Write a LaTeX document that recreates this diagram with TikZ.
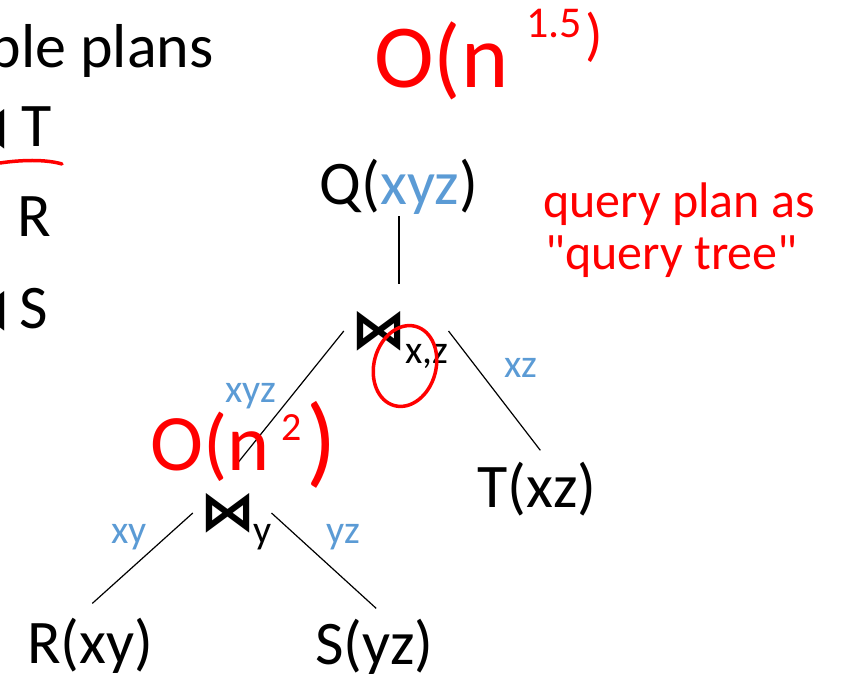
\documentclass[tikz,border=0pt]{standalone}
\usepackage{fontspec}
\setmainfont{Carlito}
\newfontfamily\joinfont{DejaVu Sans}
\usepackage{xcolor}
\usetikzlibrary{positioning}
\definecolor{attrblue}{HTML}{5B9BD5}
\definecolor{penred}{HTML}{FF0000}

\begin{document}
\begin{tikzpicture}[
        x=1pt, y=-1pt,
        every node/.style={inner sep=0pt},
        rel/.style={font=\fontsize{62}{72}\selectfont, anchor=base west},
        attr/.style={font=\fontsize{40}{48}\selectfont, text=attrblue, anchor=base west},
        sub/.style={font=\fontsize{40}{48}\selectfont, anchor=base west},
        joinop/.style={font=\joinfont\bfseries\fontsize{55}{55}\selectfont, inner xsep=7pt, inner ysep=10pt},
        edge/.style={line width=1.2pt},
        ink/.style={draw=penred, line width=3.5pt, line cap=round},
        note/.style={font=\fontsize{50}{56}\selectfont, text=penred, anchor=base west}
    ]
    \useasboundingbox (0,0) rectangle (846,676);
    \clip (0,0) rectangle (846,676);
    % left column, cut by the slide border
    \node[rel, anchor=base east] (plans) at (214,68) {ble plans};
    \node[joinop, inner sep=0pt, anchor=base] (cutT) at (-17,147) {⋈};
    \node[rel] (rowT) at (21,147) {T};
    \node[rel] (rowR) at (17,237) {R};
    \node[joinop, inner sep=0pt, anchor=base] (cutS) at (-17,328) {⋈};
    \node[rel] (rowS) at (19,328) {S};
    \draw[ink] (0,163) .. controls (20,160) and (45,159) .. (62,164);
    % query tree
    \node[rel, anchor=base] (q) at (399,205) {Q(\textcolor{attrblue}{xyz})};
    \node[joinop] (jxz) at (378.5,331) {⋈};
    \node[sub] (jxzsub) at (405,363) {x,z};
    \node[rel] (t) at (477,507) {T(xz)};
    \node[joinop] (jy) at (227.5,513) {⋈};
    \node[sub] (jysub) at (253,543) {y};
    \node[rel] (r) at (27,663) {R(xy)};
    \node[rel] (s) at (315,664) {S(yz)};
    \node[attr] (axyz) at (225,402) {xyz};
    \node[attr] (axz) at (504,377) {xz};
    \node[attr] (axy) at (111,543) {xy};
    \node[attr] (ayz) at (326,543) {yz};
    \draw[edge, shorten <=1pt, shorten >=17pt] (q.south) -- (q.south |- jxz.north);
    \draw[edge, shorten >=22pt] (jxz.west) -- (jy.101);
    \draw[edge, shorten >=14pt] (jxzsub.east |- jxz.east) -- (t.66);
    \draw[edge, shorten >=21pt] (jy.west) -- (r.116);
    \draw[edge, shorten >=15pt] (jysub.east |- jy.east) -- (s.65);
    % red pen notes
    \node[note] (note1) at (543,218) {query plan as};
    \node[note] (note2) at (545,270) {\textquotedbl query tree\textquotedbl};
    \node[note, font=\fontsize{90}{90}\selectfont] (costtop) at (374,88)
        {O(n\hspace{18pt}\raisebox{50pt}{\fontsize{44}{44}\selectfont 1.5}\hspace{3pt}\raisebox{33pt}{\fontsize{58}{58}\selectfont )}};
    \node[note, font=\fontsize{80}{80}\selectfont] (costmid) at (150,470)
        {O(n\hspace{12pt}\raisebox{30pt}{\fontsize{40}{40}\selectfont 2}\hspace{5pt}\raisebox{-4pt}{\fontsize{100}{100}\selectfont )}};
    \draw[ink, rotate around={-15:(405,366)}] (405,366) ellipse [x radius=31pt, y radius=41pt];
\end{tikzpicture}
\end{document}
